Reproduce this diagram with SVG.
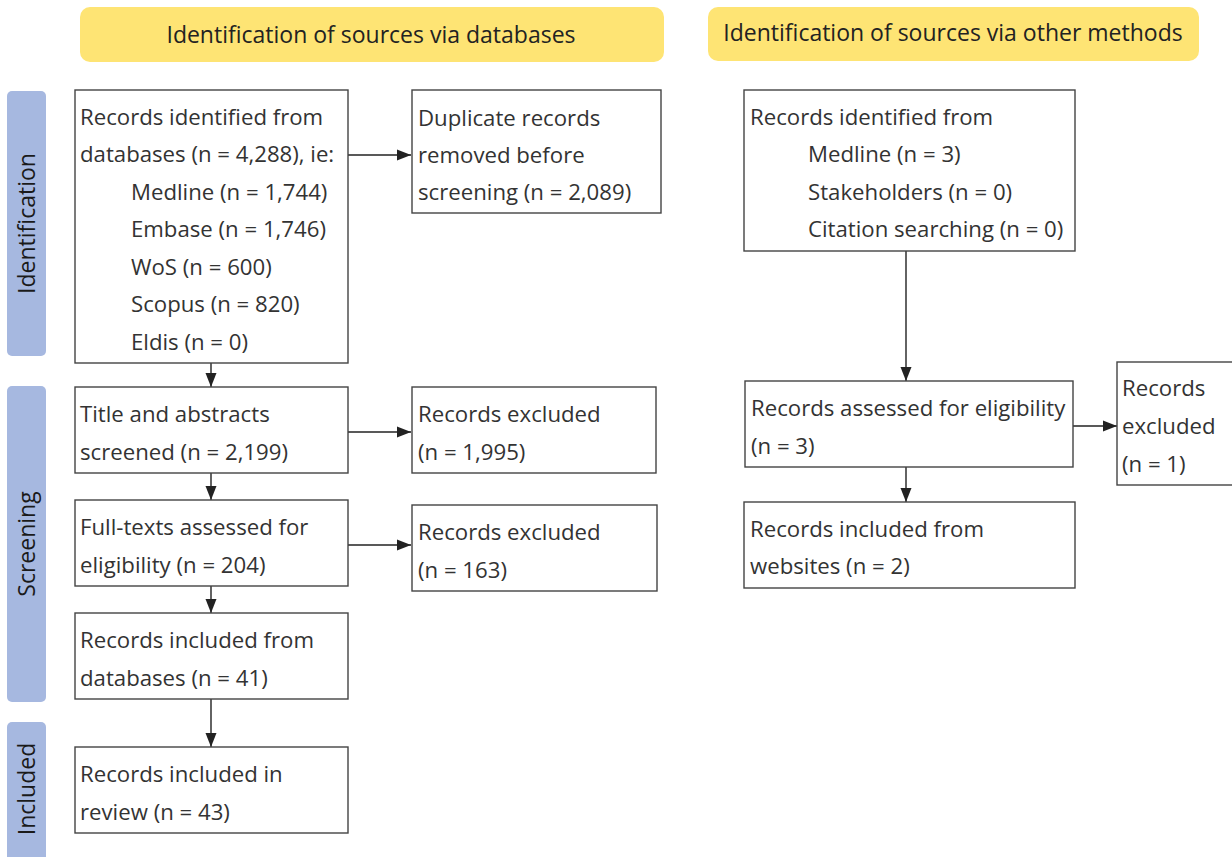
<svg xmlns="http://www.w3.org/2000/svg" width="1232" height="857" viewBox="0 0 1232 857">
  <style>
    .hdr { fill: #FEE474; }
    .hdr-t { font-family: "Open Sans", "Noto Sans", sans-serif; font-size: 23px; font-weight: 500; fill: #222; text-anchor: middle; }
    .side { fill: #A6B8E0; }
    .side-t { font-family: "Open Sans", "Noto Sans", sans-serif; font-size: 23px; fill: #1a1a1a; text-anchor: middle; }
    .box { fill: #fff; stroke: #444; stroke-width: 1.4; }
    .t { font-family: "Open Sans", "Noto Sans", sans-serif; font-size: 22.2px; fill: #333; }
    .conn { stroke: #222; stroke-width: 1.4; fill: none; marker-end: url(#arrow); }
  </style>
  <defs>
    <marker id="arrow" markerWidth="14" markerHeight="12" refX="14" refY="6" orient="auto" markerUnits="userSpaceOnUse">
      <path d="M0,0.5 L14,6 L0,11.5 Z" fill="#222"/>
    </marker>
  </defs>

  <rect width="1232" height="857" fill="#fff"/>

  <!-- column headers -->
  <g id="header-databases">
    <rect class="hdr" x="80" y="7" width="584" height="55" rx="10"/>
    <text class="hdr-t" x="371" y="43">Identification of sources via databases</text>
  </g>
  <g id="header-other">
    <rect class="hdr" x="708" y="7" width="491" height="54" rx="10"/>
    <text class="hdr-t" x="953" y="41">Identification of sources via other methods</text>
  </g>

  <!-- phase labels -->
  <g id="phase-identification">
    <rect class="side" x="7" y="91" width="39" height="265" rx="5"/>
    <text class="side-t" transform="translate(35,223.5) rotate(-90)">Identification</text>
  </g>
  <g id="phase-screening">
    <rect class="side" x="7" y="386" width="39" height="316" rx="5"/>
    <text class="side-t" transform="translate(35,544) rotate(-90)">Screening</text>
  </g>
  <g id="phase-included">
    <rect class="side" x="7" y="722" width="39" height="145" rx="5"/>
    <text class="side-t" transform="translate(35,789) rotate(-90)">Included</text>
  </g>

  <!-- connectors -->
  <g id="connectors">
    <line class="conn" x1="348" y1="155" x2="411" y2="155"/>
    <line class="conn" x1="211" y1="363" x2="211" y2="387"/>
    <line class="conn" x1="348" y1="432" x2="411" y2="432"/>
    <line class="conn" x1="211" y1="473" x2="211" y2="500"/>
    <line class="conn" x1="348" y1="545" x2="411" y2="545"/>
    <line class="conn" x1="211" y1="586" x2="211" y2="613"/>
    <line class="conn" x1="211" y1="699" x2="211" y2="747"/>
    <line class="conn" x1="906" y1="251" x2="906" y2="381"/>
    <line class="conn" x1="1073" y1="426" x2="1117" y2="426"/>
    <line class="conn" x1="906" y1="467" x2="906" y2="502"/>
  </g>

  <!-- databases column -->
  <g id="records-databases">
    <rect class="box" x="75" y="90" width="273" height="273"/>
    <text class="t" x="80" y="125">Records identified from</text>
    <text class="t" x="80" y="162">databases (n = 4,288), ie:</text>
    <text class="t" x="131" y="200">Medline (n = 1,744)</text>
    <text class="t" x="131" y="237">Embase (n = 1,746)</text>
    <text class="t" x="131" y="275">WoS (n = 600)</text>
    <text class="t" x="131" y="312">Scopus (n = 820)</text>
    <text class="t" x="131" y="350">Eldis (n = 0)</text>
  </g>
  <g id="duplicates-removed">
    <rect class="box" x="412" y="90" width="249" height="123"/>
    <text class="t" x="418" y="126">Duplicate records</text>
    <text class="t" x="418" y="163">removed before</text>
    <text class="t" x="418" y="200">screening (n = 2,089)</text>
  </g>
  <g id="title-abstract-screened">
    <rect class="box" x="75" y="387" width="273" height="86"/>
    <text class="t" x="80" y="422">Title and abstracts</text>
    <text class="t" x="80" y="460">screened (n = 2,199)</text>
  </g>
  <g id="records-excluded-1">
    <rect class="box" x="412" y="387" width="244" height="86"/>
    <text class="t" x="418" y="422">Records excluded</text>
    <text class="t" x="418" y="460">(n = 1,995)</text>
  </g>
  <g id="fulltext-assessed">
    <rect class="box" x="75" y="500" width="273" height="86"/>
    <text class="t" x="80" y="535">Full-texts assessed for</text>
    <text class="t" x="80" y="573">eligibility (n = 204)</text>
  </g>
  <g id="records-excluded-2">
    <rect class="box" x="412" y="505" width="245" height="86"/>
    <text class="t" x="418" y="540">Records excluded</text>
    <text class="t" x="418" y="578">(n = 163)</text>
  </g>
  <g id="included-databases">
    <rect class="box" x="75" y="613" width="273" height="86"/>
    <text class="t" x="80" y="648">Records included from</text>
    <text class="t" x="80" y="686">databases (n = 41)</text>
  </g>
  <g id="included-review">
    <rect class="box" x="75" y="747" width="273" height="86"/>
    <text class="t" x="80" y="782">Records included in</text>
    <text class="t" x="80" y="820">review (n = 43)</text>
  </g>

  <!-- other methods column -->
  <g id="records-other">
    <rect class="box" x="744" y="90" width="331" height="161"/>
    <text class="t" x="750" y="125">Records identified from</text>
    <text class="t" x="808" y="162">Medline (n = 3)</text>
    <text class="t" x="808" y="200">Stakeholders (n = 0)</text>
    <text class="t" x="808" y="237">Citation searching (n = 0)</text>
  </g>
  <g id="assessed-other">
    <rect class="box" x="745" y="381" width="328" height="86"/>
    <text class="t" x="751" y="416">Records assessed for eligibility</text>
    <text class="t" x="751" y="454">(n = 3)</text>
  </g>
  <g id="excluded-other">
    <rect class="box" x="1117" y="362" width="125" height="123"/>
    <text class="t" x="1122" y="396">Records</text>
    <text class="t" x="1122" y="434">excluded</text>
    <text class="t" x="1122" y="472">(n = 1)</text>
  </g>
  <g id="included-websites">
    <rect class="box" x="744" y="502" width="331" height="86"/>
    <text class="t" x="750" y="537">Records included from</text>
    <text class="t" x="750" y="574">websites (n = 2)</text>
  </g>
</svg>
